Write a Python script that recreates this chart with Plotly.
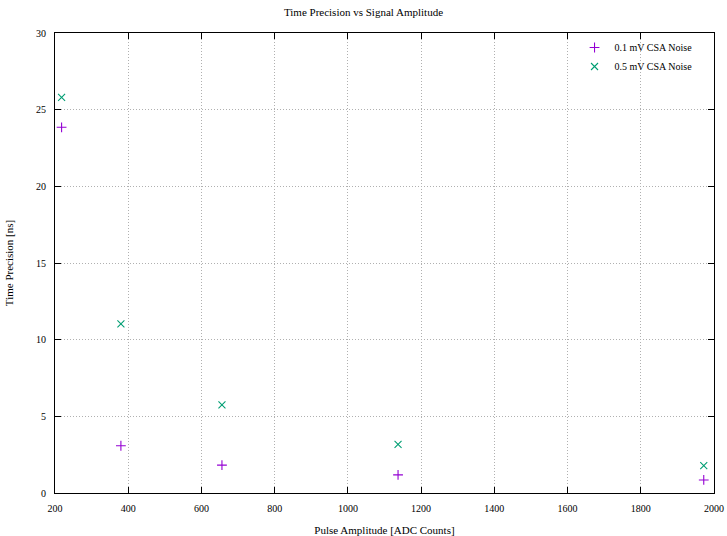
import plotly.graph_objects as go

amplitude = [218, 380, 656, 1137, 1972]
noise_01 = [23.85, 3.08, 1.82, 1.18, 0.85]
noise_05 = [25.8, 11.03, 5.75, 3.17, 1.79]
series_names = ["0.1 mV CSA Noise", "0.5 mV CSA Noise"]
x_ticks = [200, 400, 600, 800, 1000, 1200, 1400, 1600, 1800, 2000]
y_ticks = [0, 5, 10, 15, 20, 25, 30]

font = "Liberation Serif, Times New Roman, serif"

fig = go.Figure()
fig.add_trace(go.Scatter(x=amplitude, y=noise_01, mode="markers", name=series_names[0],
                         marker=dict(symbol="cross-thin-open", size=7, line=dict(width=1.1, color="#9400D3"), color="#9400D3")))
fig.add_trace(go.Scatter(x=amplitude, y=noise_05, mode="markers", name=series_names[1],
                         marker=dict(symbol="x-thin-open", size=7, line=dict(width=1.1, color="#009E73"), color="#009E73")))

axis_common = dict(
    showline=True, linecolor="black", linewidth=1, mirror="ticks",
    ticks="inside", ticklen=6, tickcolor="black",
    showgrid=True, gridcolor="#b0b0b0", griddash="1px,2px", gridwidth=1,
    zeroline=False, tickfont=dict(family=font, size=10, color="black"),
    automargin=False, ticklabelstandoff=6,
)

fig.update_layout(
    width=727, height=536,
    margin=dict(l=55, r=13, t=33, b=43),
    paper_bgcolor="white", plot_bgcolor="white",
    title=dict(text="Time Precision vs Signal Amplitude", x=0.5, xanchor="center", y=0.978, yanchor="middle",
               font=dict(family=font, size=11, color="black")),
    xaxis=dict(range=[200, 2000], tickvals=x_ticks,
               title=dict(text="Pulse Amplitude [ADC Counts]", font=dict(family=font, size=11, color="black"), standoff=14),
               **axis_common),
    yaxis=dict(range=[0, 30], tickvals=y_ticks,
               title=dict(text="Time Precision [ns]", font=dict(family=font, size=11, color="black"), standoff=20),
               **axis_common),
    legend=dict(x=0.975, y=1.0, xanchor="right", yanchor="top", bgcolor="rgba(255,255,255,0)",
                font=dict(family=font, size=10, color="black"), tracegroupgap=0,
                itemwidth=30),
    showlegend=True,
)

fig.write_html("out.html")
